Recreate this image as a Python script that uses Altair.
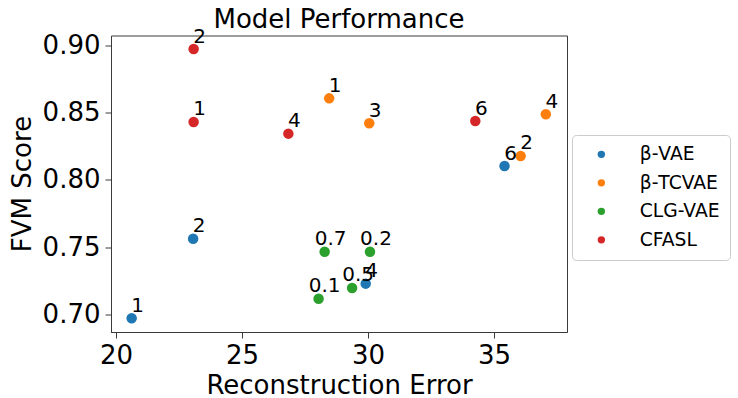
import altair as alt
import pandas as pd

model_order = ["β-VAE", "β-TCVAE", "CLG-VAE", "CFASL"]
model_colors = ["#1f77b4", "#ff7f0e", "#2ca02c", "#d62728"]

model = ["β-VAE", "β-VAE", "β-VAE", "β-VAE",
         "β-TCVAE", "β-TCVAE", "β-TCVAE", "β-TCVAE",
         "CLG-VAE", "CLG-VAE", "CLG-VAE", "CLG-VAE",
         "CFASL", "CFASL", "CFASL", "CFASL"]
recon_error = [20.62, 23.06, 29.91, 35.42,
               28.46, 36.06, 30.05, 37.06,
               28.04, 30.08, 29.37, 28.28,
               23.08, 23.08, 26.84, 34.26]
fvm_score = [0.697, 0.7563, 0.7228, 0.8104,
             0.8608, 0.8179, 0.8422, 0.8489,
             0.7116, 0.7466, 0.7196, 0.7466,
             0.8432, 0.8975, 0.8345, 0.8439]
point_label = ["1", "2", "4", "6",
               "1", "2", "3", "4",
               "0.1", "0.2", "0.5", "0.7",
               "1", "2", "4", "6"]

x_ticks = [20, 25, 30, 35]
y_ticks = [0.70, 0.75, 0.80, 0.85, 0.90]

df = pd.DataFrame({"model": model, "recon": recon_error,
                   "fvm": fvm_score, "label": point_label})

FONT = "DejaVu Sans"
AX = "#3a3a3a"

x_enc = alt.X("recon:Q",
              scale=alt.Scale(domain=[19.8, 37.9], nice=False, zero=False),
              axis=alt.Axis(values=x_ticks, format="d", title="Reconstruction Error",
                            grid=False, tickSize=6, labelPadding=4,
                            labelFontSize=26, titleFontSize=26,
                            labelFont=FONT, titleFont=FONT, titleFontWeight="normal",
                            labelColor="black", titleColor="black",
                            domainColor=AX, tickColor=AX, labelFlush=False,
                            titleBaseline="alphabetic", titleY=61))
y_enc = alt.Y("fvm:Q",
              scale=alt.Scale(domain=[0.6868, 0.9076], nice=False, zero=False),
              axis=alt.Axis(values=y_ticks, format=".2f", title="FVM Score",
                            grid=False, tickSize=6, labelPadding=5,
                            labelFontSize=26, titleFontSize=26,
                            labelFont=FONT, titleFont=FONT, titleFontWeight="normal",
                            labelColor="black", titleColor="black",
                            domainColor=AX, tickColor=AX, labelFlush=False,
                            titleBaseline="alphabetic", titleX=-81, titleY=148,
                            titleAlign="center", titleAngle=270))

points = alt.Chart(df).mark_circle(size=110, opacity=1).encode(
    x=x_enc, y=y_enc,
    color=alt.Color("model:N",
                    scale=alt.Scale(domain=model_order, range=model_colors),
                    legend=alt.Legend(orient="none", legendX=461, legendY=99.5,
                                      title=None, labelFontSize=18.7, labelFont=FONT,
                                      labelColor="black", symbolSize=55,
                                      symbolType="circle", padding=10, rowPadding=8.5,
                                      strokeColor="#cccccc", cornerRadius=4,
                                      fillColor="white", symbolOffset=10,
                                      labelOffset=29)),
)

labels = alt.Chart(df).mark_text(font=FONT, fontSize=20, align="center",
                                 baseline="alphabetic", dx=6, dy=-6.5,
                                 color="black").encode(
    x="recon:Q", y="fvm:Q", text="label:N")

chart = (points + labels).properties(
    width=456, height=296.5,
    autosize=alt.AutoSizeParams(type="none"),
    padding={"left": 111, "top": 35.5, "right": 171, "bottom": 66},
    title=alt.TitleParams("Model Performance", fontSize=26, font=FONT,
                          fontWeight="normal", offset=-6,
                          anchor="middle", color="black"),
    background="white",
).configure_view(stroke=AX, strokeWidth=1)

chart.save("out.html", embed_options={"renderer": "svg", "actions": False})
